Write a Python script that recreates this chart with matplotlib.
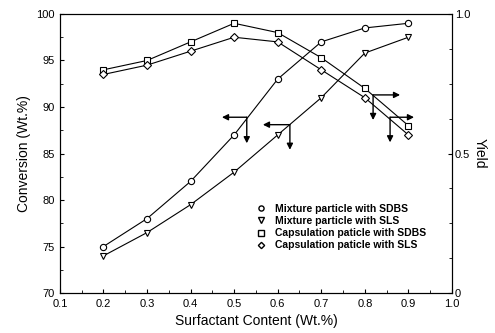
import numpy as np
import matplotlib
matplotlib.use("Agg")
import matplotlib.pyplot as plt
from matplotlib.ticker import MultipleLocator
from matplotlib.lines import Line2D

plt.rcParams['font.family'] = ['Liberation Sans', 'DejaVu Sans']

# data
content = [0.2, 0.3, 0.4, 0.5, 0.6, 0.7, 0.8, 0.9]
mix_sdbs = [75, 78, 82, 87, 93, 97, 98.5, 99]
mix_sls = [74, 76.5, 79.5, 83, 87, 91, 95.8, 97.5]
cap_sdbs = [94, 95, 97, 99, 98, 95.3, 92, 88]
cap_sls = [93.5, 94.5, 96, 97.5, 97, 94, 91, 87]

labels = ["Mixture particle with SDBS", "Mixture particle with SLS",
          "Capsulation paticle with SDBS", "Capsulation paticle with SLS"]
markers = ["o", "v", "s", "D"]

fig = plt.figure(figsize=(4.95, 3.33), dpi=100)
ax = fig.add_axes([0.121, 0.12, 0.792, 0.838])

series = [mix_sdbs, mix_sls, cap_sdbs, cap_sls]
handles = []
for vals, lab, mk in zip(series, labels, markers):
    ms = 4.5 if mk != "D" else 4
    ax.plot(content, vals, color="black", linewidth=0.8, marker=mk, ms=ms,
            mfc="white", mec="black", mew=0.8)
    handles.append(Line2D([], [], linestyle="none", marker=mk, ms=ms - 0.8,
                          mfc="white", mec="black", mew=1.0, label=lab))

ax.set_xlim(0.1, 1.0)
ax.set_ylim(70, 100)
ax.xaxis.set_major_locator(MultipleLocator(0.1))
ax.xaxis.set_minor_locator(MultipleLocator(0.05))
ax.yaxis.set_major_locator(MultipleLocator(5))
ax.yaxis.set_minor_locator(MultipleLocator(2.5))
ax.tick_params(direction="in", labelsize=8, length=3)
ax.tick_params(which="minor", direction="in", length=2)
ax.tick_params(axis="x", pad=4)
ax.set_xlabel("Surfactant Content (Wt.%)", fontsize=10)
ax.set_ylabel("Conversion (Wt.%)", fontsize=10)

ax2 = ax.twinx()
ax2.set_ylim(0, 1.0)
ax2.set_yticks([0, 0.5, 1.0])
ax2.set_yticklabels(["0", "0.5", "1.0"])
ax2.yaxis.set_minor_locator(MultipleLocator(0.125))
ax2.tick_params(direction="in", labelsize=8, length=3, pad=2)
ax2.tick_params(which="minor", direction="in", length=2)
ax2.set_ylabel("Yield", fontsize=10, rotation=270, labelpad=12)

# L-shaped arrows: (corner x, corner y, horizontal end x, vertical end y)
arrows = [(0.529, 88.9, 0.472, 86.1),
          (0.628, 88.1, 0.566, 85.4),
          (0.819, 91.3, 0.881, 88.6),
          (0.858, 88.9, 0.913, 86.2)]
for cx, cy, hx, vy in arrows:
    ax.annotate("", xy=(hx, cy), xytext=(cx, cy),
                arrowprops=dict(arrowstyle="-|>", color="black", lw=1.0,
                                mutation_scale=9, shrinkA=0, shrinkB=0))
    ax.annotate("", xy=(cx, vy), xytext=(cx, cy),
                arrowprops=dict(arrowstyle="-|>", color="black", lw=1.0,
                                mutation_scale=9, shrinkA=0, shrinkB=0))

leg = ax.legend(handles=handles, loc="upper left", bbox_to_anchor=(0.48, 0.345),
                frameon=False, borderpad=0.2, handlelength=1.0, handletextpad=0.9,
                labelspacing=0.2, prop=dict(size=7.5, weight="bold"))

fig.savefig("out.png", dpi=100)
